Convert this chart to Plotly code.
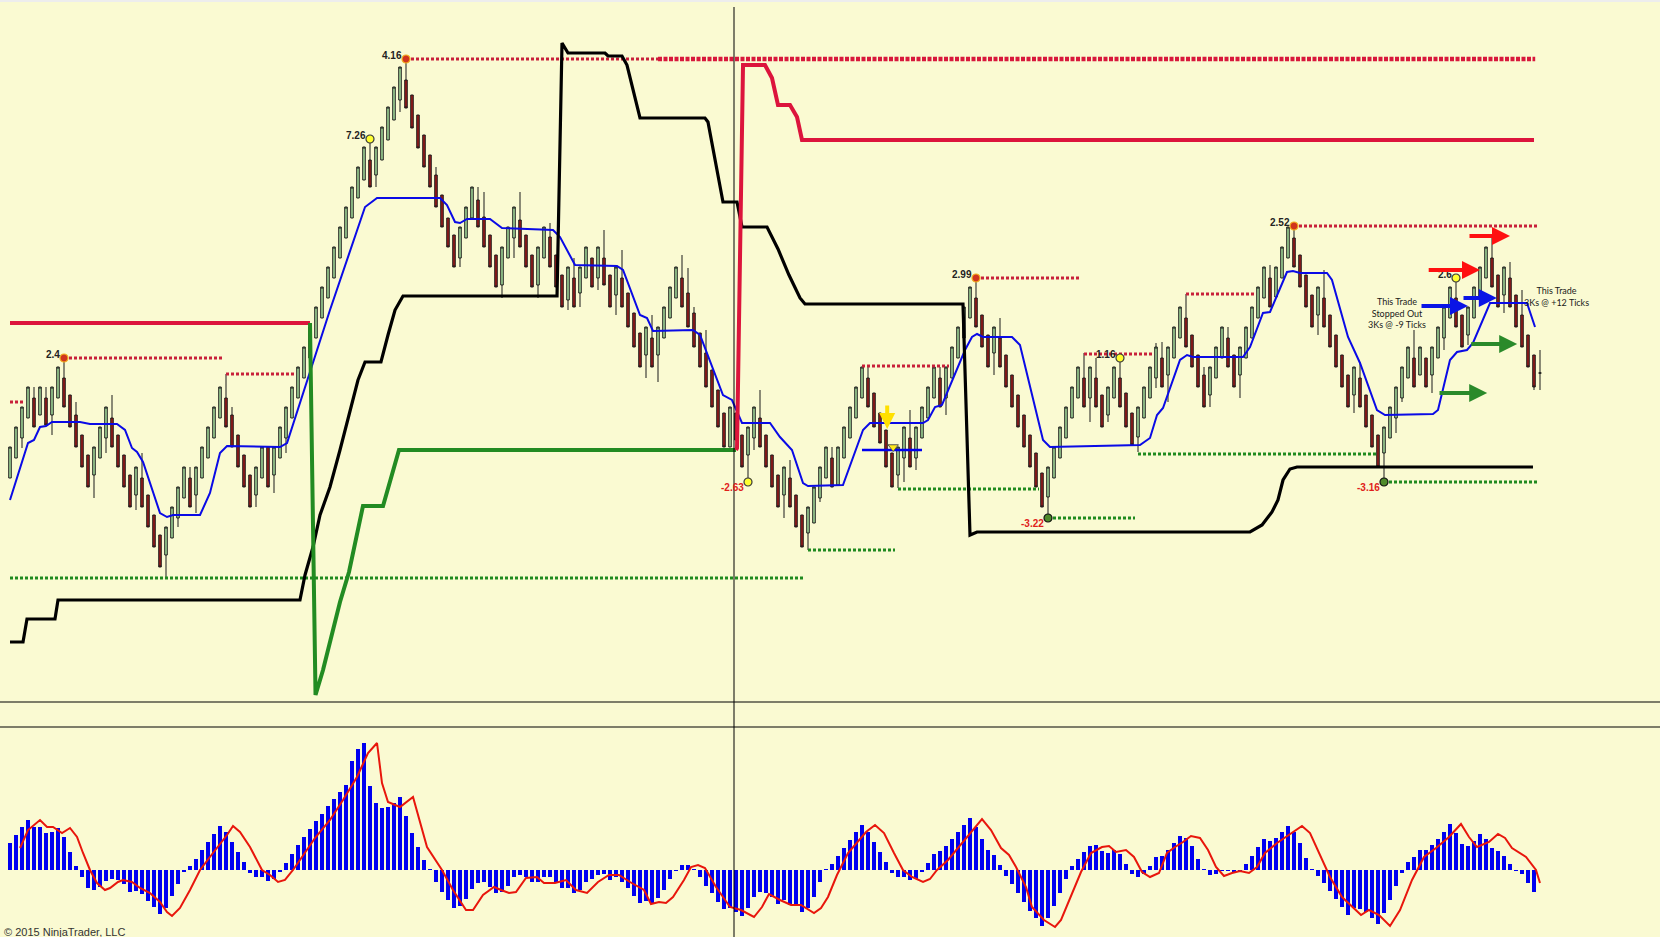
import plotly.graph_objects as go

# ---------------- DATA (price units, bar index on x) ----------------
opens = [222,242,262,282,302,285,302,285,302,322, 305,285,265,245,225,242,262,282,265,245,
         225,205,222,205,185,165,145,162,182,202, 222,205,222,242,262,282,302,285,265,245,
         225,205,222,253,225,242,262,282,302,322, 342,362,382,402,422,442,462,482,502,520,
         540,525,540,560,580,600,620,605,585,565, 545,525,505,482,465,442,462,482,500,483,
         465,445,415,442,462,480,465,445,415,442, 463,445,425,400,422,407,422,442,422,442,
         425,405,422,407,387,367,345,362,345,362, 382,402,422,407,387,367,347,330,310,287,
         253,287,265,245,262,282,265,245,225,205, 222,205,185,167,177,202,222,242,215,242,
         262,282,302,322,307,287,270,247,225,242, 262,242,262,282,302,322,302,322,342,362,
         382,402,385,365,347,362,345,325,305,285, 265,247,227,203,222,242,262,282,302,322,
         302,322,305,285,302,322,307,287,263,282, 302,322,342,325,342,362,382,365,345,325,
         305,322,342,362,345,325,342,362,382,402, 422,403,422,442,462,445,425,405,385,402,
         385,365,345,325,305,322,305,285,265,247, 262,282,302,322,342,325,342,325,342,362,
         382,402,385,365,382,402,422,442,425,405, 422,405,385,365,345,327]
closes = [253,273,293,313,273,313,275,313,333,293, 273,253,233,213,253,273,293,253,233,213,
          193,233,193,173,153,133,173,193,213,233, 193,233,253,273,293,313,273,253,233,213,
          193,233,253,213,253,273,293,313,333,353, 373,393,413,433,453,473,493,513,533,553,
          513,553,573,593,613,633,592,572,552,533, 513,493,473,453,433,473,493,513,473,453,
          433,413,453,473,493,453,433,413,453,473, 433,413,393,433,393,433,453,413,453,415,
          393,433,393,373,353,333,373,333,373,393, 413,433,393,373,353,333,313,293,273,253,
          293,260,233,273,293,253,233,213,193,233, 193,173,153,193,213,233,253,213,253,273,
          293,313,333,293,273,257,233,213,253,273, 233,273,293,313,333,293,333,353,373,393,
          413,373,353,333,373,333,313,293,273,253, 233,213,193,233,253,273,293,313,333,293,
          333,293,273,313,333,293,273,255,293,313, 333,353,313,353,373,393,353,333,313,293,
          333,353,373,333,313,353,373,393,413,433, 393,433,453,473,433,413,393,373,413,373,
          353,333,313,293,333,293,273,253,233,273, 293,313,333,353,313,353,313,353,373,393,
          413,373,353,393,413,433,453,413,393,433, 393,373,353,333,313,327]
highs = [253,273,293,313,313,313,313,313,333,342, 305,298,265,245,253,273,293,305,265,245,
         225,233,247,205,185,165,173,193,213,233, 233,233,253,273,293,313,326,293,265,245,
         225,233,253,253,253,273,293,313,333,353, 373,393,413,433,453,473,493,513,533,553,
         560,553,573,593,613,633,641,605,585,565, 545,533,505,482,465,473,493,513,513,508,
         465,445,453,473,493,508,465,445,453,473, 477,445,425,433,442,433,453,442,453,470,
         425,433,450,407,387,367,373,385,373,393, 413,433,445,432,393,367,370,330,310,287,
         293,287,265,273,293,310,265,245,225,233, 240,205,185,193,213,233,253,253,253,273,
         293,313,333,333,307,287,270,247,253,273, 290,273,293,313,333,333,333,353,373,393,
         413,422,385,365,373,382,345,325,305,285, 265,247,227,233,253,273,293,313,333,347,
         333,342,305,313,333,342,307,287,293,313, 333,357,358,353,373,393,406,365,345,333,
         333,353,373,373,345,353,373,393,413,433, 435,433,453,473,475,445,425,405,413,430,
         385,365,345,325,333,338,305,285,265,273, 293,313,333,353,370,353,342,353,373,393,
         413,422,385,393,413,433,453,462,425,433, 438,405,410,365,345,350]
lows = [222,242,252,282,273,285,275,265,302,293, 273,253,233,213,202,242,247,253,233,213,
        193,190,193,173,153,133,123,162,173,202, 193,187,222,242,262,282,273,253,233,213,
        193,193,222,213,207,242,247,282,302,322, 342,362,382,402,422,442,462,482,502,520,
        513,513,540,560,580,588,592,572,552,533, 513,493,473,453,433,433,462,482,473,453,
        433,413,402,442,442,453,433,413,402,442, 433,413,393,390,393,393,422,413,410,415,
        393,385,393,373,353,333,322,333,318,362, 382,402,393,373,353,333,313,293,273,253,
        253,260,233,218,250,253,233,213,193,182, 193,173,153,150,177,198,222,213,215,242,
        262,282,302,293,273,257,233,213,212,218, 233,230,262,282,302,293,285,322,342,362,
        382,373,353,333,325,333,313,293,273,253, 233,213,193,182,222,242,262,282,302,293,
        278,293,273,278,302,293,273,255,248,282, 302,312,313,298,342,362,353,333,313,293,
        293,322,342,333,313,302,342,362,382,402, 393,403,422,442,433,413,393,373,365,373,
        353,333,313,293,287,293,273,253,233,218, 262,267,298,322,313,325,313,307,342,350,
        382,373,353,355,382,402,422,413,393,387, 393,373,353,333,310,310]

# smoothed midline (blue)
blue_idx = [0,3,4,5,6,7,11.67,13.33,17.83,19.17, 20.33,21.17,22.17,25,26.17,27.17,31.67,33.33,35,36.17,
            45,46.17,53.33,59.17,61.17,71.67,72.83,74.17,75,76.17, 80,82,90.5,91.67,94.17,101.17,102.17,105,106.17,107.17,
            113.83,115,118.83,120.33,122,126.67,128.33,130.33,132.17,133, 138.83,142.17,143.33,152.17,153,154.17,155.33,159.17,160.33,161.17,
            162.17,167,168.33,172.17,173.33,188.33,190,191.17,192.17,195, 196.17,197.17,205.5,206.67,208.83,210,212.83,213.83,215,219.5,
            220.33,223,225,227.83,229.17,237.17,238,240,241.17,242.83, 243.83,245.5,246.67,252.83,254.17]
blue_val = [200,257,260,273,274,278,278,276,276,270, 252,248,238,187,183,185,185,207,247,254,
            253,257,390,493,502,502,495,478,477,481, 481,472,470,463,435,434,430,385,382,369,
            370,365,305,300,277,277,263,250,217,214, 215,270,277,277,280,293,295,350,363,366,
            363,363,355,260,253,255,262,285,292,340, 345,343,343,353,387,388,428,429,427,427,
            420,363,337,290,285,286,290,340,348,350, 357,380,397,397,373]

# black channel line
black_idx = [0,2.17,2.83,7.5,8,48.33,49.17,50.5,51.67,53.33,55,56.67,58,59.17,61.83,63,64.17,65.5,91.17,92,
             93,99.17,99.67,102,102.83,105,115.83,116.33,117.83,118.83,121.17,122,126.17,128,129.83,131.67,132.5,
             158.83,160,161.17,206.67,208.67,210.33,211.33,212.17,213.33,214.5,253.83]
black_val = [58,58,81,81,100,100,125,153,185,213,250,290,320,338,338,365,390,404,404,657,
             647,647,644,644,635,582,582,578,530,498,498,473,473,451,425,402,396,
             396,165,168,168,175,188,200,220,231,233,233]

# trailing stop (short = red, long = green)
stop_short1_idx = [0, 50]
stop_short1_val = [377, 377]
stop_long_idx = [50, 50.92, 52.17, 53.5, 55.0, 56.5, 58.83, 62.17, 64.83, 121]
stop_long_val = [377, 5, 30, 62, 98, 128, 194, 194, 250, 250]
stop_short2_idx = [121, 121.17, 122.17, 125.83, 127, 128, 130, 131.17, 132, 254]
stop_short2_val = [250, 252, 635, 635, 622, 595, 595, 583, 560, 560]

# swing high / low levels (start bar, end bar, price)
res_start = [0, 9, 36, 66, 142, 161, 179, 196, 214]
res_end = [2.5, 35.5, 47.5, 108, 156.5, 178.5, 190.5, 207.5, 254.5]
res_val = [298, 342, 326, 641, 334, 422, 346, 406, 474]
res_ext_start, res_ext_end, res_ext_val = 108, 254.2, 641
sup_start = [0, 133, 148, 173, 188, 229]
sup_end = [132.5, 147.5, 171.5, 187.5, 228, 254.5]
sup_val = [122, 150, 211, 182, 246, 218]

# swing point labels
swing_idx = [9, 60, 66, 123, 161, 173, 185, 214, 229, 241]
swing_val = [342, 561, 641, 218, 422, 182, 342, 474, 218, 422]
swing_txt = ["2.4", "7.26", "4.16", "-2.63", "2.99", "-3.22", "1.16", "2.52", "-3.16", "2.6"]
swing_kind = ["hi", "y", "hi", "y", "hi", "lo", "y", "hi", "lo", "y"]

# MACD histogram + signal
hist = [27,35,43,50,43,43,37,38,42,33, 18,4,-7,-18,-20,-17,-11,-9,-10,-14,
        -22,-21,-24,-31,-37,-44,-38,-26,-14,-2, 4,11,20,28,36,44,38,28,18,8,
        -3,-7,-7,-11,-9,-2,7,16,25,33, 41,49,56,64,71,78,85,109,121,127,
        84,67,62,63,67,73,54,37,23,10, 1,-12,-22,-30,-38,-36,-29,-19,-13,-12,
        -17,-23,-22,-16,-7,-5,-7,-12,-12,-7, -7,-12,-18,-18,-23,-20,-12,-9,-5,-4,
        -10,-7,-12,-18,-26,-33,-31,-33,-28,-20, -9,-1,5,5,1,-7,-16,-23,-32,-39,
        -38,-42,-46,-38,-27,-22,-23,-27,-34,-30, -35,-36,-42,-38,-27,-12,1,6,14,22,
        30,38,45,38,28,18,8,-3,-7,-7, -10,-9,-2,7,16,19,24,31,38,45,
        52,43,31,20,15,5,-6,-14,-23,-32, -41,-48,-56,-48,-36,-23,-9,4,11,18,
        24,25,19,17,20,16,6,-4,-7,-4, 4,13,14,20,27,34,32,24,11,1,
        -5,-4,-1,-1,-2,-1,6,14,23,31, 29,32,38,44,38,27,12,1,-6,-13,
        -21,-29,-37,-45,-38,-39,-42,-48,-54,-43, -30,-16,-3,8,13,20,20,25,31,38,
        46,37,26,24,29,36,31,22,19,14, 6,-1,-4,-13,-22,None]
sig_idx = [1.67,3,5,6.17,7.17,8.67,10,11.17,12.17,13.33, 14.5,15.83,16.67,18,18.83,20.33,21.67,23.33,25,26.17,
           27,28.33,30,31.67,33.83,36.17,37.17,38.33,40,42, 43.33,44.67,45.83,47.17,48.67,50.83,53.33,55.5,57.83,59.67,
           61.17,62,63,65,67.17,69.5,72,73.83,76,77.17, 78.83,80.67,81.83,83.17,84.33,86,87.83,89,90.83,92.67,
           94.33,96.17,98,99.83,101.5,103.33,105.67,106.83,108.17,109.33, 110.5,112.33,113.5,114.67,115.83,117.67,120,121.83,124,125.33,
           126.5,128.33,130.17,131.83,134,135.17,136.33,137.83,139.67,141.5, 142.67,144.17,145.67,147.33,148.83,150.33,152.17,153.33,154.5,156.33,
           158.17,160.5,162,163.5,165.17,166.5,167.67,169.33,170.33,172.33, 174.17,175.17,176.83,178.5,180.17,182,183.17,184.33,186,187.33,
           188.67,190,191.5,192.83,194.17,195.5,196.83,198.33,199.67,201, 202.33,203.67,205,206.5,207.83,209.17,211.17,213.17,215.33,216.67,
           218.67,220,222,223.83,225.17,226.5,228.17,230,231.67,233.67, 235.67,237.67,239.83,241.83,243.17,244.5,246.5,248,249.17,250.33,
           252.67,254.33,255]
sig_val = [22,40,50,43,43,37,42,33,17,0, -13,-20,-18,-12,-10,-12,-18,-23,-32,-42,
           -46,-38,-20,0,17,35,44,38,23,0, -5,-12,-10,0,13,32,50,70,93,117,
           127,87,68,63,73,23,0,-20,-40,-40, -25,-17,-20,-23,-22,-8,-7,-13,-13,-10,
           -20,-23,-12,-5,-5,-12,-20,-34,-32,-33, -27,-10,3,5,2,-17,-37,-40,-47,-37,
           -24,-30,-35,-35,-43,-38,-27,-5,17,30, 38,45,37,17,0,-7,-12,-9,0,10,
           23,40,51,40,22,15,3,-17,-37,-50, -57,-50,-27,-2,17,23,24,18,20,13,
           -2,-7,-3,17,23,28,34,32,20,3, -6,-3,-1,-3,3,17,27,35,44,37,
           10,-7,-27,-38,-45,-40,-45,-56,-40,-10, 13,22,33,46,33,23,28,36,32,22,
           13,0,-13]

# trade arrows (tail bar, head bar, price, colour name)
arrow_tail = [243, 236.2, 235, 242, 243.3, 238]
arrow_head = [250, 245, 243, 247.8, 251.2, 246.2]
arrow_val = [464, 430, 394, 402, 356, 307]
arrow_col = ["red", "red", "blue", "blue", "green", "green"]

# ---------------- FIGURE ----------------
BG = "#FAFAD2"
bars = list(range(len(opens)))
fig = go.Figure()

fig.add_trace(go.Candlestick(
    x=bars, open=opens, high=highs, low=lows, close=closes,
    increasing=dict(fillcolor="#A9E2A0", line=dict(color="#1A1A1A", width=1)),
    decreasing=dict(fillcolor="#9E1A1A", line=dict(color="#1A1A1A", width=1)),
    whiskerwidth=0, hoverinfo="skip", showlegend=False, xaxis="x", yaxis="y"))

def seg_lines(starts, ends, vals):
    xs, ys = [], []
    for s, e, v in zip(starts, ends, vals):
        xs += [s, e, None]
        ys += [v, v, None]
    return xs, ys

xs, ys = seg_lines(sup_start, sup_end, sup_val)
fig.add_trace(go.Scatter(x=xs, y=ys, mode="lines", line=dict(color="#1F8A1F", width=3, dash="3px,2px"),
                         hoverinfo="skip", showlegend=False))
xs, ys = seg_lines(res_start, res_end, res_val)
fig.add_trace(go.Scatter(x=xs, y=ys, mode="lines", line=dict(color="#C8203A", width=3, dash="3px,2px"),
                         hoverinfo="skip", showlegend=False))
fig.add_trace(go.Scatter(x=[res_ext_start, res_ext_end], y=[res_ext_val, res_ext_val], mode="lines",
                         line=dict(color="#D8183C", width=4.5, dash="4px,1.5px"), hoverinfo="skip", showlegend=False))

# short blue horizontal entry line
fig.add_trace(go.Scatter(x=[142, 152], y=[250, 250], mode="lines", line=dict(color="#0000EE", width=2.5),
                         hoverinfo="skip", showlegend=False))

fig.add_trace(go.Scatter(x=blue_idx, y=blue_val, mode="lines", line=dict(color="#0A0AE6", width=2),
                         hoverinfo="skip", showlegend=False))
fig.add_trace(go.Scatter(x=black_idx, y=black_val, mode="lines", line=dict(color="#000000", width=3.2),
                         hoverinfo="skip", showlegend=False))
for xi, yv, col in [(stop_short1_idx, stop_short1_val, "#DC143C"),
                    (stop_long_idx, stop_long_val, "#228B22"),
                    (stop_short2_idx, stop_short2_val, "#DC143C")]:
    fig.add_trace(go.Scatter(x=xi, y=yv, mode="lines", line=dict(color=col, width=4),
                             hoverinfo="skip", showlegend=False))

# swing markers
kind_fill = {"hi": "#D0341E", "y": "#FFFF30", "lo": "#4F8A2A"}
kind_line = {"hi": "#F2B01E", "y": "#3A3A3A", "lo": "#111111"}
fig.add_trace(go.Scatter(x=swing_idx, y=swing_val, mode="markers",
                         marker=dict(size=8, color=[kind_fill[k] for k in swing_kind],
                                     line=dict(color=[kind_line[k] for k in swing_kind], width=1.2)),
                         hoverinfo="skip", showlegend=False))
# small yellow triangle marker
fig.add_trace(go.Scatter(x=[147.2], y=[253], mode="markers",
                         marker=dict(symbol="triangle-down", size=9, color="#FFE81A", line=dict(color="#555", width=1)),
                         hoverinfo="skip", showlegend=False))

# MACD panel
fig.add_trace(go.Bar(x=bars, y=hist, width=0.82, marker=dict(color="#0000F0", line=dict(width=0)),
                     xaxis="x2", yaxis="y2", hoverinfo="skip", showlegend=False))
fig.add_trace(go.Scatter(x=sig_idx, y=sig_val, mode="lines", line=dict(color="#E8160C", width=2),
                         xaxis="x2", yaxis="y2", hoverinfo="skip", showlegend=False))

annotations = []
for xi, yv, t, k in zip(swing_idx, swing_val, swing_txt, swing_kind):
    low = t.startswith("-")
    annotations.append(dict(x=xi, y=yv, xref="x", yref="y", text="<b>%s</b>" % t, showarrow=False,
                            xanchor="right", yanchor="middle", xshift=-2, yshift=(-5 if low else 4),
                            font=dict(family="Liberation Sans, Arial", size=10,
                                      color=("#E0201A" if low else "#222222"))))
colmap = {"red": "#FF1010", "blue": "#0A14E6", "green": "#2A8A2A"}
for t0, t1, v, c in zip(arrow_tail, arrow_head, arrow_val, arrow_col):
    annotations.append(dict(x=t1, y=v, ax=t0, ay=v, xref="x", yref="y", axref="x", ayref="y", text="",
                            showarrow=True, arrowhead=2, arrowsize=0.9, arrowwidth=4, arrowcolor=colmap[c]))
# yellow down arrow
annotations.append(dict(x=146.2, y=271, ax=146.2, ay=296, xref="x", yref="y", axref="x", ayref="y", text="",
                        showarrow=True, arrowhead=2, arrowsize=0.8, arrowwidth=4, arrowcolor="#FFE000"))
annotations.append(dict(x=231.2, y=387, xref="x", yref="y", showarrow=False,
                        text="This Trade<br>Stopped Out<br>3Ks @ -9 Ticks",
                        font=dict(family="Lato, Liberation Sans", size=9, color="#1A1A1A")))
annotations.append(dict(x=257.8, y=404, xref="x", yref="y", showarrow=False,
                        text="This Trade<br>3Ks @ +12 Ticks",
                        font=dict(family="Lato, Liberation Sans", size=9, color="#1A1A1A")))
annotations.append(dict(x=0.0012, y=0.0053, xref="paper", yref="paper", xanchor="left", yanchor="middle",
                        showarrow=False, text="© 2015 NinjaTrader, LLC",
                        font=dict(family="Liberation Sans, Arial", size=11, color="#333333")))

shapes = [
    dict(type="rect", xref="paper", yref="paper", x0=0, x1=1, y0=1 - 2 / 937, y1=1,
         fillcolor="#EDEDED", line=dict(width=0), layer="above"),
    dict(type="line", xref="paper", yref="paper", x0=0, x1=1, y0=1 - 702 / 937, y1=1 - 702 / 937,
         line=dict(color="#000000", width=1)),
    dict(type="line", xref="paper", yref="paper", x0=0, x1=1, y0=210 / 937, y1=210 / 937,
         line=dict(color="#000000", width=1)),
    dict(type="line", xref="paper", yref="paper", x0=734 / 1660, x1=734 / 1660, y0=0, y1=1 - 7 / 937,
         line=dict(color="#000000", width=1)),
]

xr = [-10 / 6, -10 / 6 + 1660 / 6]
fig.update_layout(
    width=1660, height=937, margin=dict(l=0, r=0, t=0, b=0),
    paper_bgcolor=BG, plot_bgcolor=BG, showlegend=False, boxgap=0.4, bargap=0,
    xaxis=dict(range=xr, domain=[0, 1], visible=False, rangeslider=dict(visible=False), anchor="y", fixedrange=True),
    yaxis=dict(range=[-2, 700], domain=[1 - 702 / 937, 1], visible=False, fixedrange=True),
    xaxis2=dict(range=xr, domain=[0, 1], visible=False, anchor="y2", fixedrange=True),
    yaxis2=dict(range=[-67, 143], domain=[0, 210 / 937], visible=False, fixedrange=True),
    annotations=annotations, shapes=shapes,
)
fig.write_html("out.html", config={"displayModeBar": False},
               post_script="document.body.style.margin='0px';document.body.style.overflow='hidden';")
